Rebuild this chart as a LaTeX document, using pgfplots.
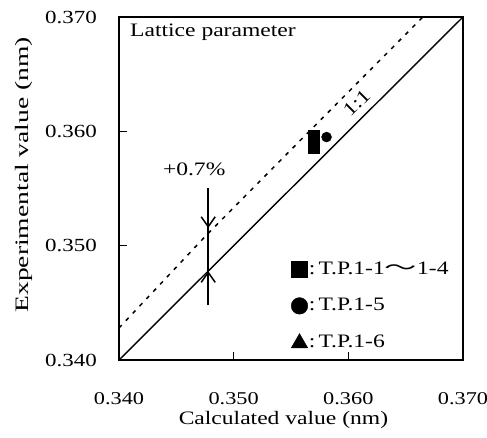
\documentclass[border=0pt]{standalone}
\usepackage{pgfplots}
\pgfplotsset{compat=1.18}
\usetikzlibrary{arrows.meta}
\usepackage{fontspec}
\setmainfont[FakeStretch=1.24]{Liberation Serif}
\newfontfamily\ylfont[FakeStretch=1.45]{Liberation Serif}
\newfontfamily\cjk[FakeStretch=1.7]{Noto Sans CJK JP}
\begin{document}
\fontsize{19}{23}\selectfont
\begin{tikzpicture}
\useasboundingbox (-119pt,-77pt) rectangle (368pt,360pt);
\begin{axis}[
  at={(0pt,0pt)}, anchor=south west,
  scale only axis, width=344pt, height=343pt,
  xmin=0.340, xmax=0.370, ymin=0.340, ymax=0.370,
  xtick={0.34,0.35,0.36,0.37}, ytick={0.34,0.35,0.36,0.37},
  xticklabels={0.340,0.350,0.360,0.370},
  yticklabels={0.340,0.350,0.360,0.370},
  xtick pos=bottom, ytick pos=left,
  tick align=inside,
  major tick length=8pt,
  tick style={line width=1.6pt, black},
  axis line style={line width=2pt},
  xticklabel style={anchor=center, yshift=-39pt, inner sep=0pt, font=\fontsize{18}{22}\selectfont},
  yticklabel style={anchor=east, xshift=-22pt, inner sep=0pt, font=\fontsize{18.5}{22}\selectfont},
  xlabel={Calculated value (nm)},
  ylabel={\ylfont Experimental value (nm)},
  every axis x label/.style={at={(axis description cs:0.478,-0.175)}, anchor=center},
  every axis y label/.style={at={(axis description cs:-0.275,0.54)}, rotate=90, anchor=center},
  clip=true,
  legend style={draw=none, fill=none, at={(axis cs:0.3550,0.3407)}, anchor=south west,
    row sep=19pt, inner sep=0pt, legend cell align=left,
    nodes={inner sep=1pt}},
]
% 1:1 line
\addplot[forget plot, black, line width=1.4pt] coordinates {(0.340,0.340) (0.370,0.370)};
% +0.7% line
\addplot[forget plot, black, line width=1.5pt, dash pattern=on 4pt off 6pt] coordinates {
  (0.340,0.3428) (0.3477,0.3510) (0.3560,0.3594) (0.3665,0.3700)};
% data
\addplot[forget plot, only marks, mark=triangle*, mark size=5pt, black] coordinates {(0.3570,0.3590)};
\addplot[forget plot, only marks, mark=square*, mark size=5.5pt, black] coordinates {
  (0.3570,0.3596) (0.3570,0.3592) (0.3570,0.3589) (0.3570,0.3586)};
\addplot[forget plot, only marks, mark=*, mark size=5pt, black] coordinates {(0.3581,0.3595)};
% legend
\addlegendimage{only marks, mark=square*, mark size=7.8pt, black}
\addlegendentry{:\,T.P.1-1{\cjk ～}1-4}
\addlegendimage{only marks, mark=*, mark size=8.3pt, black}
\addlegendentry{:\,T.P.1-5}
\addlegendimage{only marks, mark=triangle*, mark size=9.5pt, black}
\addlegendentry{:\,T.P.1-6}
% annotations
\draw[line width=1.5pt] (axis cs:0.34778,0.35504) -- (axis cs:0.34778,0.34481);
\draw[line width=1.5pt, -{Straight Barb[length=10pt,width=14pt,line width=1.5pt]}]
  (axis cs:0.34778,0.35504) -- (axis cs:0.34778,0.35154);
\draw[line width=1.5pt, -{Straight Barb[length=10pt,width=14pt,line width=1.5pt]}]
  (axis cs:0.34778,0.34481) -- (axis cs:0.34778,0.34778);
\node at (axis cs:0.34656,0.35671) {+0.7\%};
\node[anchor=west, inner sep=0pt] at (axis cs:0.34096,0.36869) {Lattice parameter};
\node[rotate=45, inner sep=0pt] at (axis cs:0.36073,0.36248) {1:1};
\end{axis}
\end{tikzpicture}
\end{document}
